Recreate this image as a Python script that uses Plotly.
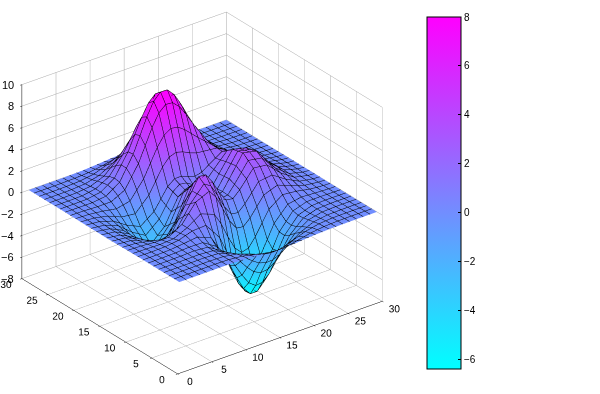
import plotly.graph_objects as go

x_positions = [1, 3, 5, 7, 9, 11, 13, 14, 15, 16, 17, 18, 19, 21, 23, 25, 27, 29, 30]
y_positions = [1, 3, 5, 6, 7, 8, 9, 11, 13, 15, 17, 19, 21, 22, 23, 24, 25, 27, 29, 30]
z_heights = [
    [0, 0, 0, .01, 0, -.04, -.13, -.19, -.23, -.25, -.25, -.22, -.17, -.08, -.03, -.01, 0, 0, 0],
    [0, 0, .01, .02, -.02, -.23, -.68, -.93, -1.13, -1.23, -1.21, -1.06, -.84, -.39, -.12, -.02, 0, 0, 0],
    [0, 0, .02, .04, -.06, -.65, -1.97, -2.74, -3.36, -3.67, -3.60, -3.17, -2.51, -1.15, -.34, -.06, -.01, 0, 0],
    [0, .01, .03, .08, -.03, -.80, -2.64, -3.75, -4.67, -5.16, -5.09, -4.50, -3.56, -1.61, -.46, -.07, 0, 0, 0],
    [0, .01, .04, .12, .10, -.70, -2.89, -4.30, -5.51, -6.22, -6.22, -5.53, -4.38, -1.93, -.50, -.06, .01, 0, 0],
    [0, 0, .04, .17, .32, -.20, -2.35, -3.90, -5.34, -6.28, -6.43, -5.78, -4.57, -1.90, -.39, .01, .03, .01, 0],
    [0, -.01, .02, .18, .59, .66, -.91, -2.38, -3.92, -5.06, -5.45, -5.00, -3.92, -1.40, -.07, .15, .07, .01, .01],
    [-.01, -.05, -.16, -.15, .60, 2.21, 2.79, 2.02, .71, -.65, -1.53, -1.62, -1.03, .64, 1.11, .63, .20, .04, .01],
    [-.03, -.14, -.52, -1.10, -.85, 1.35, 3.56, 3.51, 2.62, 1.39, .50, .39, .99, 2.55, 2.40, 1.20, .36, .07, .03],
    [-.04, -.21, -.83, -2.00, -2.59, -.81, 1.84, 2.18, 1.66, .78, .23, .47, 1.42, 3.38, 3.09, 1.52, .46, .09, .03],
    [-.03, -.21, -.82, -2.08, -3.00, -1.82, .49, .94, .72, .19, -.06, .33, 1.29, 3.11, 2.82, 1.38, .41, .08, .03],
    [-.02, -.14, -.54, -1.37, -1.94, -1.00, .86, 1.36, 1.38, 1.12, .93, 1.07, 1.52, 2.34, 1.93, .92, .27, .05, .02],
    [-.01, -.06, -.21, -.44, -.17, 1.44, 3.91, 4.82, 5.22, 5.12, 4.67, 4.07, 3.47, 2.37, 1.31, .52, .14, .03, .01],
    [-.01, -.03, -.09, -.08, .56, 2.57, 5.45, 6.58, 7.15, 7.09, 6.50, 5.56, 4.49, 2.53, 1.15, .40, .10, .02, .01],
    [0, -.01, -.01, .14, .99, 3.14, 6.16, 7.37, 8.02, 7.99, 7.33, 6.22, 4.92, 2.52, 1.01, .31, .07, .01, 0],
    [0, 0, .02, .23, 1.08, 3.07, 5.82, 6.94, 7.55, 7.53, 6.91, 5.85, 4.58, 2.24, .83, .23, .05, .01, 0],
    [0, 0, .03, .23, .93, 2.52, 4.70, 5.59, 6.09, 6.08, 5.58, 4.72, 3.67, 1.76, .62, .16, .03, 0, 0],
    [0, 0, .02, .11, .42, 1.10, 2.03, 2.41, 2.62, 2.62, 2.41, 2.03, 1.57, .74, .25, .06, .01, 0, 0],
    [0, 0, .01, .03, .11, .29, .53, .63, .69, .69, .63, .53, .41, .19, .06, .02, 0, 0, 0],
    [0, 0, 0, .01, .05, .13, .23, .27, .30, .30, .27, .23, .18, .08, .03, .01, 0, 0, 0],
]
xy_ticks = [0, 5, 10, 15, 20, 25, 30]
z_ticks = [-8, -6, -4, -2, 0, 2, 4, 6, 8, 10]
colorbar_ticks = [-6, -4, -2, 0, 2, 4, 6, 8]

FONT = dict(family="Liberation Sans", size=10, color="black")
AXFONT = dict(family="Liberation Sans", size=11, color="black")
wire = dict(show=True, start=1, end=30, size=1, color="black", width=2, highlight=False)

fig = go.Figure(go.Surface(
    x=x_positions, y=y_positions, z=z_heights,
    colorscale=[[0, "#00ffff"], [1, "#ff00ff"]],
    cmin=-6.4, cmax=8,
    lighting=dict(ambient=1, diffuse=0, specular=0, roughness=1, fresnel=0),
    contours=dict(x=wire, y=wire),
    hoverinfo="skip",
    colorbar=dict(
        thickness=34, thicknessmode="pixels",
        len=352, lenmode="pixels",
        x=427 / 600, xanchor="left", xpad=0,
        y=1 - 17 / 394, yanchor="top", ypad=0,
        tickvals=colorbar_ticks, ticks="inside", ticklen=3, tickcolor="black",
        tickfont=FONT, outlinecolor="black", outlinewidth=1,
    ),
))

def axis(ticks, rng, labels=True):
    return dict(
        range=rng, tickvals=ticks, tickfont=AXFONT, title="", tickangle=0,
        showticklabels=labels,
        showgrid=True, gridcolor="#a8a8a8", gridwidth=1,
        showline=True, linecolor="black", linewidth=1,
        ticks="outside", ticklen=2, tickcolor="black",
        showbackground=False, zeroline=False, showspikes=False,
    )

z_labels = [
    dict(x=0, y=30, z=v, text=str(v).replace("-", "\u2212"), showarrow=False,
         xanchor="right", xshift=-6, font=AXFONT)
    for v in z_ticks
]

fig.update_layout(
    width=600, height=394, margin=dict(l=0, r=0, t=0, b=0),
    paper_bgcolor="white", showlegend=False,
    scene=dict(
        domain=dict(x=[0, 0.9], y=[0, 1]),
        xaxis=axis(xy_ticks, [0, 30]),
        yaxis=axis(xy_ticks, [0, 30]),
        zaxis=axis(z_ticks, [-8, 10], labels=False),
        aspectmode="manual", aspectratio=dict(x=1.305, y=1.305, z=1.113),
        annotations=z_labels,
        camera=dict(
            projection=dict(type="orthographic"),
            eye=dict(x=-0.5315, y=-1.2667, z=0.6769),
            center=dict(x=0.2685, y=-0.2167, z=-0.0181), up=dict(x=0, y=0, z=1),
        ),
    ),
)
fig.write_html("out.html", config={"displayModeBar": False},
               post_script="document.body.style.margin='0';")
